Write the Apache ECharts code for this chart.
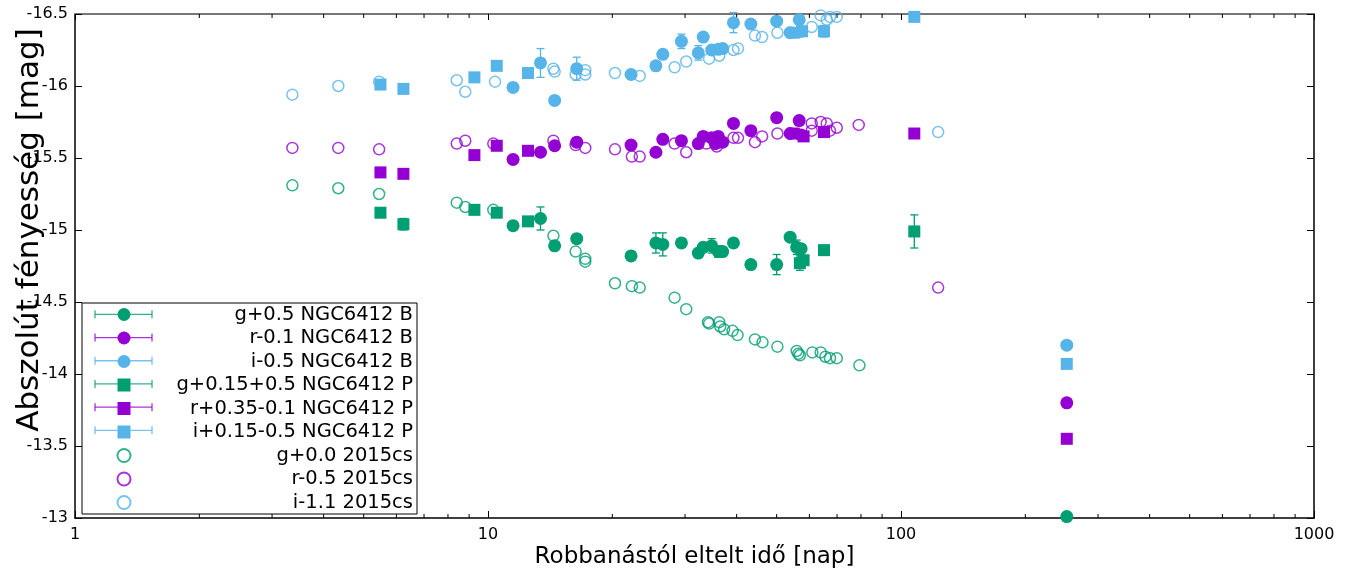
<!DOCTYPE html>
<html lang="hu">
<head>
<meta charset="utf-8">
<title>NGC6412 fénygörbe</title>
<script src="https://cdn.jsdelivr.net/npm/echarts@6/dist/echarts.min.js"></script>
<style>
  html, body { margin: 0; padding: 0; background: #fff; }
  #chart { width: 1348px; height: 571px; }
</style>
</head>
<body>
<div id="chart"></div>
<script>
// napok / abszolút fényesség
const gBDay = [11.5, 13.4, 14.5, 16.4, 22.2, 25.5, 26.5, 29.4, 32.3, 33.2, 34.8, 36.1, 37.0, 39.3, 43.3, 50.0, 53.9, 55.9, 57.3, 252];
const gBMag = [-15.03, -15.08, -14.89, -14.94, -14.82, -14.91, -14.90, -14.91, -14.84, -14.88, -14.89, -14.85, -14.85, -14.91, -14.76, -14.76, -14.95, -14.88, -14.87, -13.01];
const gBErr = [0.02, 0.08, 0.02, 0.03, 0.03, 0.07, 0.08, 0.03, 0.02, 0.03, 0.05, 0.04, 0.03, 0.03, 0.02, 0.07, 0.02, 0.05, 0.02, 0.02];

const rBDay = [11.5, 13.4, 14.5, 16.4, 22.2, 25.5, 26.5, 29.4, 32.3, 33.2, 34.8, 35.5, 36.1, 37.0, 39.3, 43.3, 50.0, 53.9, 56.7, 57.3, 252];
const rBMag = [-15.49, -15.54, -15.585, -15.61, -15.59, -15.54, -15.63, -15.62, -15.60, -15.65, -15.64, -15.60, -15.65, -15.61, -15.74, -15.69, -15.78, -15.67, -15.76, -15.66, -13.80];
const rBErr = [0.02, 0.02, 0.02, 0.02, 0.02, 0.02, 0.02, 0.02, 0.02, 0.03, 0.02, 0.02, 0.02, 0.02, 0.02, 0.02, 0.02, 0.02, 0.02, 0.02, 0.02];

const iBDay = [11.5, 13.4, 14.5, 16.4, 22.2, 25.5, 26.5, 29.4, 32.3, 33.2, 34.8, 36.1, 37.0, 39.3, 43.3, 50.0, 53.9, 56.7, 57.3, 252];
const iBMag = [-15.99, -16.16, -15.90, -16.12, -16.08, -16.14, -16.22, -16.31, -16.23, -16.34, -16.25, -16.255, -16.26, -16.44, -16.43, -16.45, -16.37, -16.46, -16.38, -14.20];
const iBErr = [0.03, 0.10, 0.02, 0.08, 0.03, 0.02, 0.02, 0.05, 0.05, 0.02, 0.02, 0.02, 0.02, 0.07, 0.02, 0.02, 0.02, 0.02, 0.02, 0.02];

const gPDay = [5.49, 6.24, 9.27, 10.5, 12.5, 56.9, 58.1, 65.1, 107.7];
const gPMag = [-15.12, -15.04, -15.14, -15.12, -15.06, -14.77, -14.79, -14.86, -14.99];
const gPErr = [0.02, 0.04, 0.02, 0.02, 0.02, 0.05, 0.02, 0.02, 0.115];

const rPDay = [5.49, 6.24, 9.27, 10.5, 12.5, 55.0, 58.1, 65.1, 107.7, 252];
const rPMag = [-15.40, -15.39, -15.52, -15.585, -15.55, -15.67, -15.65, -15.68, -15.67, -13.55];
const rPErr = [0.02, 0.02, 0.02, 0.02, 0.02, 0.02, 0.02, 0.02, 0.02, 0.02];

const iPDay = [5.49, 6.24, 9.27, 10.5, 12.5, 55.0, 57.6, 65.1, 107.7, 252];
const iPMag = [-16.01, -15.98, -16.06, -16.14, -16.09, -16.37, -16.38, -16.38, -16.48, -14.07];
const iPErr = [0.02, 0.02, 0.02, 0.02, 0.02, 0.02, 0.02, 0.04, 0.02, 0.02];

const gCsDay = [3.36, 4.34, 5.45, 8.40, 8.81, 10.3, 14.4, 16.3, 17.2, 17.2, 20.3, 22.3, 23.3, 28.3, 30.2, 34.1, 34.3, 36.3, 36.5, 37.3, 39.1, 40.2, 44.3, 46.2, 50.2, 55.9, 56.4, 56.9, 61.0, 63.9, 65.6, 67.3, 69.9, 79.3];
const gCsMag = [-15.31, -15.29, -15.25, -15.19, -15.16, -15.14, -14.96, -14.85, -14.80, -14.78, -14.63, -14.61, -14.60, -14.53, -14.45, -14.36, -14.35, -14.36, -14.33, -14.31, -14.30, -14.27, -14.24, -14.22, -14.19, -14.16, -14.14, -14.13, -14.15, -14.15, -14.12, -14.11, -14.11, -14.06];

const rCsDay = [3.36, 4.34, 5.45, 8.40, 8.81, 10.3, 14.4, 16.3, 17.2, 20.3, 22.3, 23.3, 28.3, 30.2, 33.8, 35.8, 39.3, 40.3, 44.3, 46.1, 50.2, 60.8, 60.8, 63.9, 66.1, 67.3, 69.9, 79.0, 123];
const rCsMag = [-15.57, -15.57, -15.56, -15.60, -15.62, -15.60, -15.62, -15.59, -15.57, -15.56, -15.51, -15.51, -15.60, -15.54, -15.60, -15.58, -15.64, -15.64, -15.61, -15.65, -15.67, -15.74, -15.69, -15.75, -15.74, -15.69, -15.71, -15.73, -14.60];

const iCsDay = [3.36, 4.34, 5.45, 8.40, 8.81, 10.4, 14.4, 14.5, 16.3, 17.2, 17.2, 20.3, 23.3, 28.3, 30.2, 34.3, 36.3, 39.3, 40.3, 44.3, 46.1, 50.2, 60.8, 63.9, 66.1, 67.3, 69.9, 123];
const iCsMag = [-15.94, -16.00, -16.03, -16.04, -15.96, -16.03, -16.12, -16.10, -16.08, -16.11, -16.08, -16.09, -16.07, -16.13, -16.17, -16.19, -16.21, -16.25, -16.26, -16.35, -16.34, -16.37, -16.41, -16.49, -16.46, -16.48, -16.48, -15.68];

// log tengely kis osztásai
const minorTicks = [2, 3, 4, 5, 6, 7, 8, 9, 20, 30, 40, 50, 60, 70, 80, 90, 200, 300, 400, 500, 600, 700, 800, 900];

const GREEN = '#009e73', PURPLE = '#9400d3', BLUE = '#56b4e9';
const FONT = 'DejaVu Sans';
const SQUARE = 'path://M0,0H10V10H0Z';

function pts(days, mags) {
    return days.map((d, i) => [d, mags[i]]);
}

function errorBars(color, days, mags, errs) {
    return {
        type: 'custom',
        silent: true,
        z: 1,
        data: days.map((d, i) => [d, mags[i], errs[i]]),
        encode: { x: 0, y: 1 },
        renderItem(params, api) {
            const x = api.value(0), y = api.value(1), e = api.value(2);
            const a = api.coord([x, y - e]), b = api.coord([x, y + e]);
            const c = 4;
            const st = { stroke: color, lineWidth: 1.3 };
            return {
                type: 'group',
                children: [
                    { type: 'line', shape: { x1: a[0], y1: a[1], x2: b[0], y2: b[1] }, style: st },
                    { type: 'line', shape: { x1: a[0] - c, y1: a[1], x2: a[0] + c, y2: a[1] }, style: st },
                    { type: 'line', shape: { x1: b[0] - c, y1: b[1], x2: b[0] + c, y2: b[1] }, style: st }
                ]
            };
        }
    };
}

function filled(name, color, symbol, size, data) {
    return {
        name, type: 'scatter', symbol, symbolSize: size, z: 2,
        itemStyle: { color, opacity: 1 },
        emphasis: { disabled: true },
        data
    };
}

function open(name, color, data) {
    return {
        name, type: 'scatter', symbol: 'circle', symbolSize: 11, z: 3,
        itemStyle: { color: 'rgba(255,255,255,0)', borderColor: color, borderWidth: 1.5, opacity: 0.8 },
        emphasis: { disabled: true },
        data
    };
}

const names = [
    'g+0.5 NGC6412 B', 'r-0.1 NGC6412 B', 'i-0.5 NGC6412 B',
    'g+0.15+0.5 NGC6412 P', 'r+0.35-0.1 NGC6412 P', 'i+0.15-0.5 NGC6412 P',
    'g+0.0 2015cs', 'r-0.5 2015cs', 'i-1.1 2015cs'
];

// legenda elhelyezése
const legLeft = 82, legTop = 303, legPadTop = 1.5, rowH = 19.7, rowGap = 3.5;
const legColors = [GREEN, PURPLE, BLUE, GREEN, PURPLE, BLUE];
const legendBars = [];
legColors.forEach((c, i) => {
    const y = legTop + legPadTop + rowH / 2 + i * (rowH + rowGap);
    const st = { stroke: c, lineWidth: 1.3, opacity: 0.8 };
    legendBars.push(
        { type: 'line', z: 5, silent: true, shape: { x1: 95, y1: y, x2: 152, y2: y }, style: st },
        { type: 'line', z: 5, silent: true, shape: { x1: 95, y1: y - 4, x2: 95, y2: y + 4 }, style: st },
        { type: 'line', z: 5, silent: true, shape: { x1: 152, y1: y - 4, x2: 152, y2: y + 4 }, style: st }
    );
});

const chart = echarts.init(document.getElementById('chart'));

const xCommon = {
    type: 'log', min: 1, max: 1000, logBase: 10,
    splitLine: { show: false },
    minorTick: { show: false }
};
const yCommon = {
    type: 'value', min: -16.5, max: -13, interval: 0.5, inverse: true,
    splitLine: { show: false }
};

const option = {
    animation: false,
    backgroundColor: '#fff',
    grid: { left: 75, right: 34, top: 14, bottom: 53, outerBoundsMode: 'none', containLabel: false },
    legend: {
        orient: 'vertical',
        left: legLeft, top: legTop,
        padding: [legPadTop, 4, 1.5, 34.5],
        itemWidth: 13, itemHeight: 13, itemGap: rowGap,
        borderColor: '#000', borderWidth: 1,
        backgroundColor: '#fff',
        selectedMode: false,
        data: names.map((n, i) => (i >= 3 && i <= 5) ? { name: n, icon: SQUARE } : n),
        formatter: n => '{a|' + n + '}',
        textStyle: {
            color: '#000',
            rich: { a: { width: 277.5, align: 'right', fontSize: 19.5, fontFamily: FONT, color: '#000' } }
        }
    },
    graphic: legendBars,
    xAxis: [
        Object.assign({}, xCommon, {
            position: 'bottom',
            name: 'Robbanástól eltelt idő [nap]',
            nameLocation: 'middle', nameGap: 28, nameMoveOverlap: false,
            nameTextStyle: { fontSize: 23, fontFamily: FONT, color: '#000' },
            axisLine: { onZero: false, lineStyle: { color: '#000', width: 1.5 } },
            axisTick: { inside: true, length: 7, lineStyle: { color: '#000' } },
            axisLabel: { fontSize: 16, fontFamily: FONT, color: '#000', margin: 9, formatter: v => String(v) }
        }),
        Object.assign({}, xCommon, {
            position: 'top',
            axisLine: { onZero: false, lineStyle: { color: '#777', width: 2 } },
            axisTick: { inside: true, length: 6, lineStyle: { color: '#000' } },
            axisLabel: { show: false }
        })
    ],
    yAxis: [
        Object.assign({}, yCommon, {
            position: 'left',
            name: 'Abszolút fényesség [mag]',
            nameLocation: 'middle', nameGap: 30, nameMoveOverlap: false,
            nameTextStyle: { fontSize: 31, fontFamily: FONT, color: '#000', padding: [0, 0, 0, 72] },
            axisLine: { onZero: false, lineStyle: { color: '#000', width: 1.5 } },
            axisTick: { inside: true, length: 7, lineStyle: { color: '#000' } },
            axisLabel: { fontSize: 16, fontFamily: FONT, color: '#000', margin: 7 }
        }),
        Object.assign({}, yCommon, {
            position: 'right',
            axisLine: { onZero: false, lineStyle: { color: '#000', width: 1.5 } },
            axisTick: { inside: true, length: 7, lineStyle: { color: '#000' } },
            axisLabel: { show: false }
        })
    ],
    series: [
        {
            type: 'custom', silent: true, z: 1,
            data: minorTicks.map(v => [v, -13]),
            encode: { x: 0, y: 1 },
            renderItem(params, api) {
                const v = api.value(0);
                const b = api.coord([v, -13]), t = api.coord([v, -16.5]);
                const st = { stroke: '#000', lineWidth: 1 };
                return {
                    type: 'group',
                    children: [
                        { type: 'line', shape: { x1: b[0], y1: b[1], x2: b[0], y2: b[1] - 4 }, style: st },
                        { type: 'line', shape: { x1: t[0], y1: t[1], x2: t[0], y2: t[1] + 4 }, style: st }
                    ]
                };
            }
        },
        errorBars(GREEN, gBDay, gBMag, gBErr),
        errorBars(PURPLE, rBDay, rBMag, rBErr),
        errorBars(BLUE, iBDay, iBMag, iBErr),
        errorBars(GREEN, gPDay, gPMag, gPErr),
        errorBars(PURPLE, rPDay, rPMag, rPErr),
        errorBars(BLUE, iPDay, iPMag, iPErr),
        filled(names[0], GREEN, 'circle', 13, pts(gBDay, gBMag)),
        filled(names[1], PURPLE, 'circle', 13, pts(rBDay, rBMag)),
        filled(names[2], BLUE, 'circle', 13, pts(iBDay, iBMag)),
        filled(names[3], GREEN, SQUARE, 12, pts(gPDay, gPMag)),
        filled(names[4], PURPLE, SQUARE, 12, pts(rPDay, rPMag)),
        filled(names[5], BLUE, SQUARE, 12, pts(iPDay, iPMag)),
        open(names[6], GREEN, pts(gCsDay, gCsMag)),
        open(names[7], PURPLE, pts(rCsDay, rCsMag)),
        open(names[8], BLUE, pts(iCsDay, iCsMag))
    ]
};

chart.setOption(option);
</script>
</body>
</html>
